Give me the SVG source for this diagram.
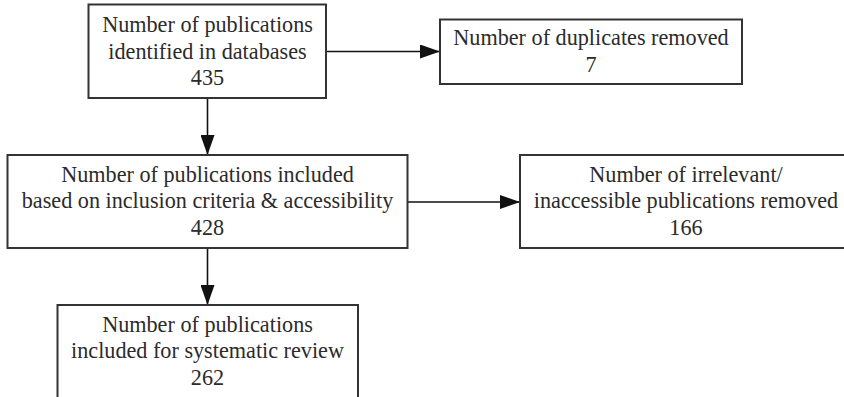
<svg xmlns="http://www.w3.org/2000/svg" width="844" height="397" viewBox="0 0 844 397">
<defs>
<style>
.box{fill:#fff;stroke:#333;stroke-width:2}
.t{font-family:'Liberation Serif','Times New Roman',serif;font-size:22.2px;fill:#2b2b2b;text-anchor:middle}
.c{stroke:#111;stroke-width:1.6;fill:none}
</style>
<marker id="ahl" viewBox="0 0 20 14" refX="20" refY="7" markerWidth="20" markerHeight="14" markerUnits="userSpaceOnUse" orient="auto">
<path d="M0,0 L20,7 L0,14 z" fill="#111"/>
</marker>
</defs>
<rect width="844" height="397" fill="#fff"/>
<g id="connectors">
<line class="c" x1="326" y1="51.5" x2="440" y2="51.5" marker-end="url(#ahl)"/>
<line class="c" x1="207.5" y1="98" x2="207.5" y2="155" marker-end="url(#ahl)"/>
<line class="c" x1="407" y1="202" x2="520" y2="202" marker-end="url(#ahl)"/>
<line class="c" x1="207.5" y1="248" x2="207.5" y2="305" marker-end="url(#ahl)"/>
</g>
<g id="n1">
<rect class="box" x="88.5" y="4.5" width="237.5" height="93.5"/>
<text class="t" x="207.5" y="32">Number of publications</text>
<text class="t" x="207.5" y="58.5">identified in databases</text>
<text class="t" x="207.5" y="85">435</text>
</g>
<g id="n2">
<rect class="box" x="440" y="19.5" width="302" height="64.5"/>
<text class="t" x="591" y="45">Number of duplicates removed</text>
<text class="t" x="591" y="71.5">7</text>
</g>
<g id="n3">
<rect class="box" x="7.5" y="155" width="400" height="93"/>
<text class="t" x="207.5" y="181.5">Number of publications included</text>
<text class="t" x="207.5" y="208">based on inclusion criteria &amp; accessibility</text>
<text class="t" x="207.5" y="235">428</text>
</g>
<g id="n4">
<rect class="box" x="520" y="155" width="336" height="93"/>
<text class="t" x="686" y="181.5">Number of irrelevant/</text>
<text class="t" x="686" y="208">inaccessible publications removed</text>
<text class="t" x="686" y="235">166</text>
</g>
<g id="n5">
<rect class="box" x="57.5" y="305" width="300.5" height="100"/>
<text class="t" x="207.5" y="331.5">Number of publications</text>
<text class="t" x="207.5" y="358">included for systematic review</text>
<text class="t" x="207.5" y="385">262</text>
</g>
</svg>
